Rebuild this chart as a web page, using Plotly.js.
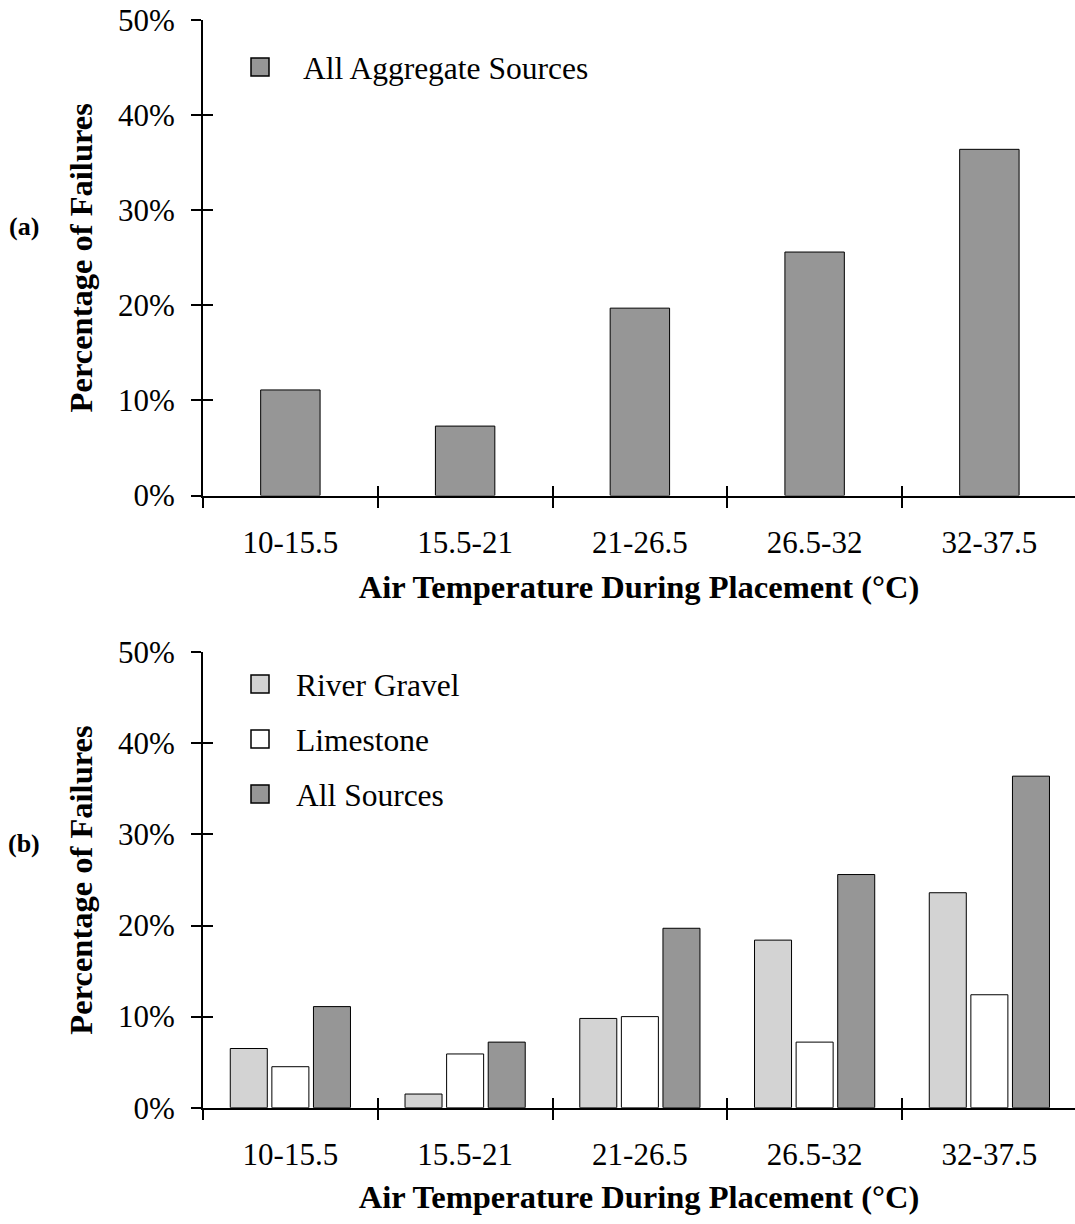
<!DOCTYPE html>
<html>
<head>
<meta charset="utf-8">
<script src="https://cdn.plot.ly/plotly-3.0.1.min.js"></script>
<style>
  html, body { margin: 0; padding: 0; background: #ffffff; }
  #chart { width: 1075px; height: 1224px; }
</style>
</head>
<body>
<div id="chart"></div>
<script>
// ---- data ----
const categories = ['10-15.5', '15.5-21', '21-26.5', '26.5-32', '32-37.5'];
const allAggregateSources = [11.1, 7.3, 19.7, 25.6, 36.4];
const riverGravel = [6.5, 1.5, 9.8, 18.4, 23.6];
const limestone = [4.5, 5.9, 10.0, 7.2, 12.4];
const allSources = [11.1, 7.2, 19.7, 25.6, 36.4];
const yTickVals = [0, 10, 20, 30, 40, 50];
const yTickText = ['0%', '10%', '20%', '30%', '40%', '50%'];
const boundaryVals = [-0.5, 0.5, 1.5, 2.5, 3.5, 4.5];

const FONT = 'Liberation Serif, Times New Roman, serif';
const W = 1075, H = 1224;
const px2y = p => 1 - p / H;
const px2x = p => p / W;

const barLine = { color: '#000000', width: 1 };

const traces = [
  { type: 'bar', x: categories, y: allAggregateSources, name: 'All Aggregate Sources',
    xaxis: 'x', yaxis: 'y', width: 0.34, legend: 'legend',
    marker: { color: '#969696', line: barLine } },
  { type: 'bar', x: categories, y: riverGravel, name: 'River Gravel',
    xaxis: 'x2', yaxis: 'y2', legend: 'legend2', legendgroup: 'rg',
    marker: { color: '#d3d3d3', line: barLine } },
  { type: 'bar', x: categories, y: limestone, name: 'Limestone',
    xaxis: 'x2', yaxis: 'y2', legend: 'legend2', legendgroup: 'ls',
    marker: { color: '#ffffff', line: barLine } },
  { type: 'bar', x: categories, y: allSources, name: 'All Sources',
    xaxis: 'x2', yaxis: 'y2', legend: 'legend2', legendgroup: 'all',
    marker: { color: '#969696', line: barLine } },
  // empty helper traces so the crossing-tick overlay axes get drawn
  { type: 'scatter', mode: 'markers', x: [], y: [], xaxis: 'x3', yaxis: 'y3',
    showlegend: false, hoverinfo: 'skip' },
  { type: 'scatter', mode: 'markers', x: [], y: [], xaxis: 'x4', yaxis: 'y4',
    showlegend: false, hoverinfo: 'skip' }
];

const xRange = [-0.5, 4.49];
const tickFont = { family: FONT, size: 31, color: '#000000' };
const titleFont = { family: FONT, size: 32.5, color: '#000000' };

function mainX(anchor, standoff) {
  return {
    type: 'category', anchor: anchor, domain: [px2x(203), 1], range: xRange,
    tickson: 'boundaries', ticks: 'outside', ticklen: 10, tickwidth: 2, tickcolor: '#000',
    showline: true, linewidth: 2, linecolor: '#000', showgrid: false, zeroline: false,
    tickfont: tickFont, ticklabelstandoff: 18,
    title: { text: '<b>Air Temperature During Placement (°C)</b>', font: titleFont, standoff: standoff }
  };
}
function mainY(anchor, dom) {
  return {
    anchor: anchor, domain: dom, range: [0, 50], tickvals: yTickVals, ticktext: yTickText,
    ticks: 'outside', ticklen: 10, tickwidth: 2, tickcolor: '#000',
    showline: true, linewidth: 2, linecolor: '#000', showgrid: false, zeroline: false,
    tickfont: tickFont, ticklabelstandoff: 10,
    title: { text: '<b>Percentage of Failures</b>', font: titleFont, standoff: 16 }
  };
}
function overlayX(over, anchor) {
  return {
    overlaying: over, anchor: anchor, type: 'linear', range: xRange, visible: true,
    tickmode: 'array', tickvals: boundaryVals, ticks: 'inside', ticklen: 10, tickwidth: 2, tickcolor: '#000',
    showticklabels: false, showline: false, showgrid: false, zeroline: false, side: 'bottom'
  };
}
function overlayY(over, anchor) {
  return {
    overlaying: over, anchor: anchor, type: 'linear', range: [0, 50], visible: true,
    tickmode: 'array', tickvals: yTickVals, ticks: 'inside', ticklen: 10, tickwidth: 2, tickcolor: '#000',
    showticklabels: false, showline: false, showgrid: false, zeroline: false, side: 'left'
  };
}

const domTop = [px2y(495.5), px2y(20)];
const domBot = [px2y(1107.7), px2y(652.3)];

const layout = {
  width: W, height: H,
  margin: { l: 0, r: 0, t: 0, b: 0 },
  paper_bgcolor: '#ffffff', plot_bgcolor: 'rgba(0,0,0,0)',
  font: { family: FONT, color: '#000000' },
  barmode: 'group', bargap: 0.286, bargroupgap: 0.11,
  xaxis: mainX('y', 17),
  yaxis: mainY('x', domTop),
  xaxis2: mainX('y2', 14),
  yaxis2: mainY('x2', domBot),
  xaxis3: overlayX('x', 'y'),
  yaxis3: overlayY('y', 'x'),
  xaxis4: overlayX('x2', 'y2'),
  yaxis4: overlayY('y2', 'x2'),
  legend: {
    x: px2x(217), y: px2y(40), xanchor: 'left', yanchor: 'top',
    itemwidth: 76, font: { family: FONT, size: 31.5, color: '#000' },
    bgcolor: 'rgba(0,0,0,0)', borderwidth: 0
  },
  legend2: {
    x: px2x(224), y: px2y(657), xanchor: 'left', yanchor: 'top',
    itemwidth: 62, font: { family: FONT, size: 31.5, color: '#000' },
    bgcolor: 'rgba(0,0,0,0)', borderwidth: 0, tracegroupgap: 11
  },
  showlegend: true,
  annotations: [
    { xref: 'paper', yref: 'paper', x: px2x(24.5), y: px2y(226), xanchor: 'center', yanchor: 'middle',
      text: '<b>(a)</b>', showarrow: false, font: { family: FONT, size: 26, color: '#000' } },
    { xref: 'paper', yref: 'paper', x: px2x(24.5), y: px2y(843), xanchor: 'center', yanchor: 'middle',
      text: '<b>(b)</b>', showarrow: false, font: { family: FONT, size: 26, color: '#000' } }
  ]
};

Plotly.newPlot('chart', traces, layout, { displayModeBar: false, staticPlot: true }).then(gd => {
  // enlarge the legend swatches to match the reference's larger squares
  gd.querySelectorAll('.legendpoints path').forEach(p => {
    const t = p.getAttribute('transform') || '';
    p.setAttribute('transform', (t + ' scale(1.5)').trim());
  });
});
</script>
</body>
</html>
